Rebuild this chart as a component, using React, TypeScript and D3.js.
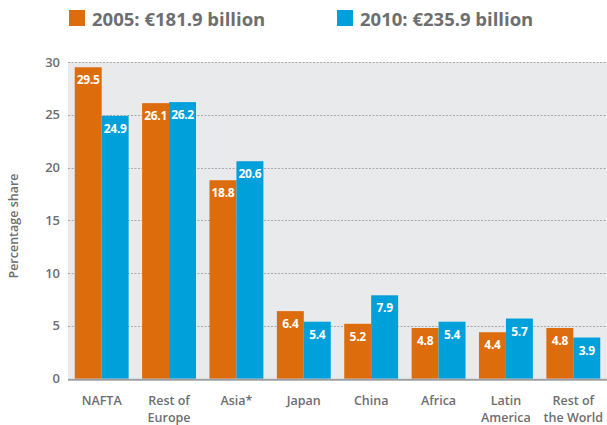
import React, { useEffect, useRef } from 'react';
import * as d3 from 'd3';

const categories = ['NAFTA', 'Rest of|Europe', 'Asia*', 'Japan', 'China', 'Africa', 'Latin|America', 'Rest of|the World'];
const values2005 = [29.5, 26.1, 18.8, 6.4, 5.2, 4.8, 4.4, 4.8];
const values2010 = [24.9, 26.2, 20.6, 5.4, 7.9, 5.4, 5.7, 3.9];
const seriesNames = ['2005: €181.9 billion', '2010: €235.9 billion'];
const yTicks = [0, 5, 10, 15, 20, 25, 30];

const ORANGE = '#dd6c0c';
const BLUE = '#00a0db';
const GREY_TEXT = '#6d6e71';
const FONT = '"Open Sans", sans-serif';

const App = () => {
  const svgRef = useRef<SVGSVGElement>(null);

  useEffect(() => {
    const width = 607;
    const height = 425;
    const margin = { top: 62, right: 0, bottom: 46, left: 68 };

    const svg = d3.select(svgRef.current)
      .attr('width', width)
      .attr('height', height)
      .style('font-family', FONT);

    svg.selectAll('*').remove();

    const x = d3.scaleBand()
      .domain(categories)
      .range([margin.left, width - margin.right])
      .paddingInner(0.2)
      .paddingOuter(0.1);

    const xSub = d3.scaleBand()
      .domain(['2005', '2010'])
      .range([0, x.bandwidth()]);

    const y = d3.scaleLinear()
      .domain([0, 30])
      .range([height - margin.bottom - 0.3, margin.top]);

    // plot background
    svg.append('rect')
      .attr('x', margin.left)
      .attr('y', y(30))
      .attr('width', width - margin.left - margin.right)
      .attr('height', y(0) - y(30))
      .attr('fill', '#e9eaec');

    // gridlines
    svg.append('g')
      .selectAll('line')
      .data(yTicks.filter(d => d > 0))
      .enter()
      .append('line')
      .attr('x1', margin.left)
      .attr('x2', width)
      .attr('y1', d => Math.round(y(d)) + 0.5)
      .attr('y2', d => Math.round(y(d)) + 0.5)
      .attr('stroke', '#a7a9ac')
      .attr('stroke-width', 1)
      .attr('stroke-dasharray', '2,1.5');

    // y tick labels
    svg.append('g')
      .selectAll('text')
      .data(yTicks)
      .enter()
      .append('text')
      .attr('x', 60)
      .attr('y', d => y(d))
      .attr('dy', '0.35em')
      .attr('text-anchor', 'end')
      .attr('fill', GREY_TEXT)
      .attr('font-size', 13)
      .attr('font-weight', 600)
      .text(d => d);

    // y axis title
    svg.append('text')
      .attr('transform', `translate(18,226) rotate(-90)`)
      .attr('text-anchor', 'middle')
      .attr('fill', GREY_TEXT)
      .attr('font-size', 12.5)
      .attr('font-weight', 600)
      .text('Percentage share');

    const rows = categories.map((c, i) => ({ cat: c, v: [values2005[i], values2010[i]] }));

    const groups = svg.append('g')
      .selectAll('g')
      .data(rows)
      .enter()
      .append('g')
      .attr('transform', d => `translate(${x(d.cat)},0)`);

    const bars = groups.selectAll('g')
      .data(d => [
        { key: '2005', value: d.v[0], color: ORANGE },
        { key: '2010', value: d.v[1], color: BLUE },
      ])
      .enter()
      .append('g');

    bars.append('rect')
      .attr('x', d => xSub(d.key))
      .attr('y', d => y(d.value))
      .attr('width', xSub.bandwidth())
      .attr('height', d => y(0) - y(d.value))
      .attr('fill', d => d.color);

    bars.append('text')
      .attr('x', d => xSub(d.key) + xSub.bandwidth() / 2)
      .attr('y', d => y(d.value) + 17)
      .attr('text-anchor', 'middle')
      .attr('fill', '#ffffff')
      .attr('font-size', 12)
      .attr('font-weight', 700)
      .attr('letter-spacing', -0.3)
      .text(d => d.value.toFixed(1));

    // baseline
    svg.append('line')
      .attr('x1', margin.left)
      .attr('x2', width)
      .attr('y1', y(0) + 1)
      .attr('y2', y(0) + 1)
      .attr('stroke', '#9d9fa2')
      .attr('stroke-width', 2);

    // category labels
    const labels = svg.append('g')
      .selectAll('text')
      .data(categories)
      .enter()
      .append('text')
      .attr('x', d => x(d) + x.bandwidth() / 2)
      .attr('y', 405)
      .attr('text-anchor', 'middle')
      .attr('fill', GREY_TEXT)
      .attr('font-size', 12.5)
      .attr('font-weight', 600);

    labels.selectAll('tspan')
      .data(d => d.split('|'))
      .enter()
      .append('tspan')
      .attr('x', function () {
        return (this.parentNode as SVGTextElement).getAttribute('x');
      })
      .attr('dy', (d, i) => (i === 0 ? 0 : 17))
      .text(d => d);

    // legend
    const legend = svg.append('g');
    const legendX = [69, 337];
    [ORANGE, BLUE].forEach((c, i) => {
      legend.append('rect')
        .attr('x', legendX[i])
        .attr('y', 10)
        .attr('width', 16)
        .attr('height', 16)
        .attr('fill', c);
      legend.append('text')
        .attr('x', legendX[i] + 23)
        .attr('y', 26)
        .attr('fill', GREY_TEXT)
        .attr('font-size', 18.5)
        .attr('font-weight', 700)
        .text(seriesNames[i]);
    });
  }, []);

  return (
    <div style={{ position: 'absolute', left: 0, top: 0 }}>
      <svg ref={svgRef} style={{ display: 'block' }}></svg>
    </div>
  );
};

export default App;
